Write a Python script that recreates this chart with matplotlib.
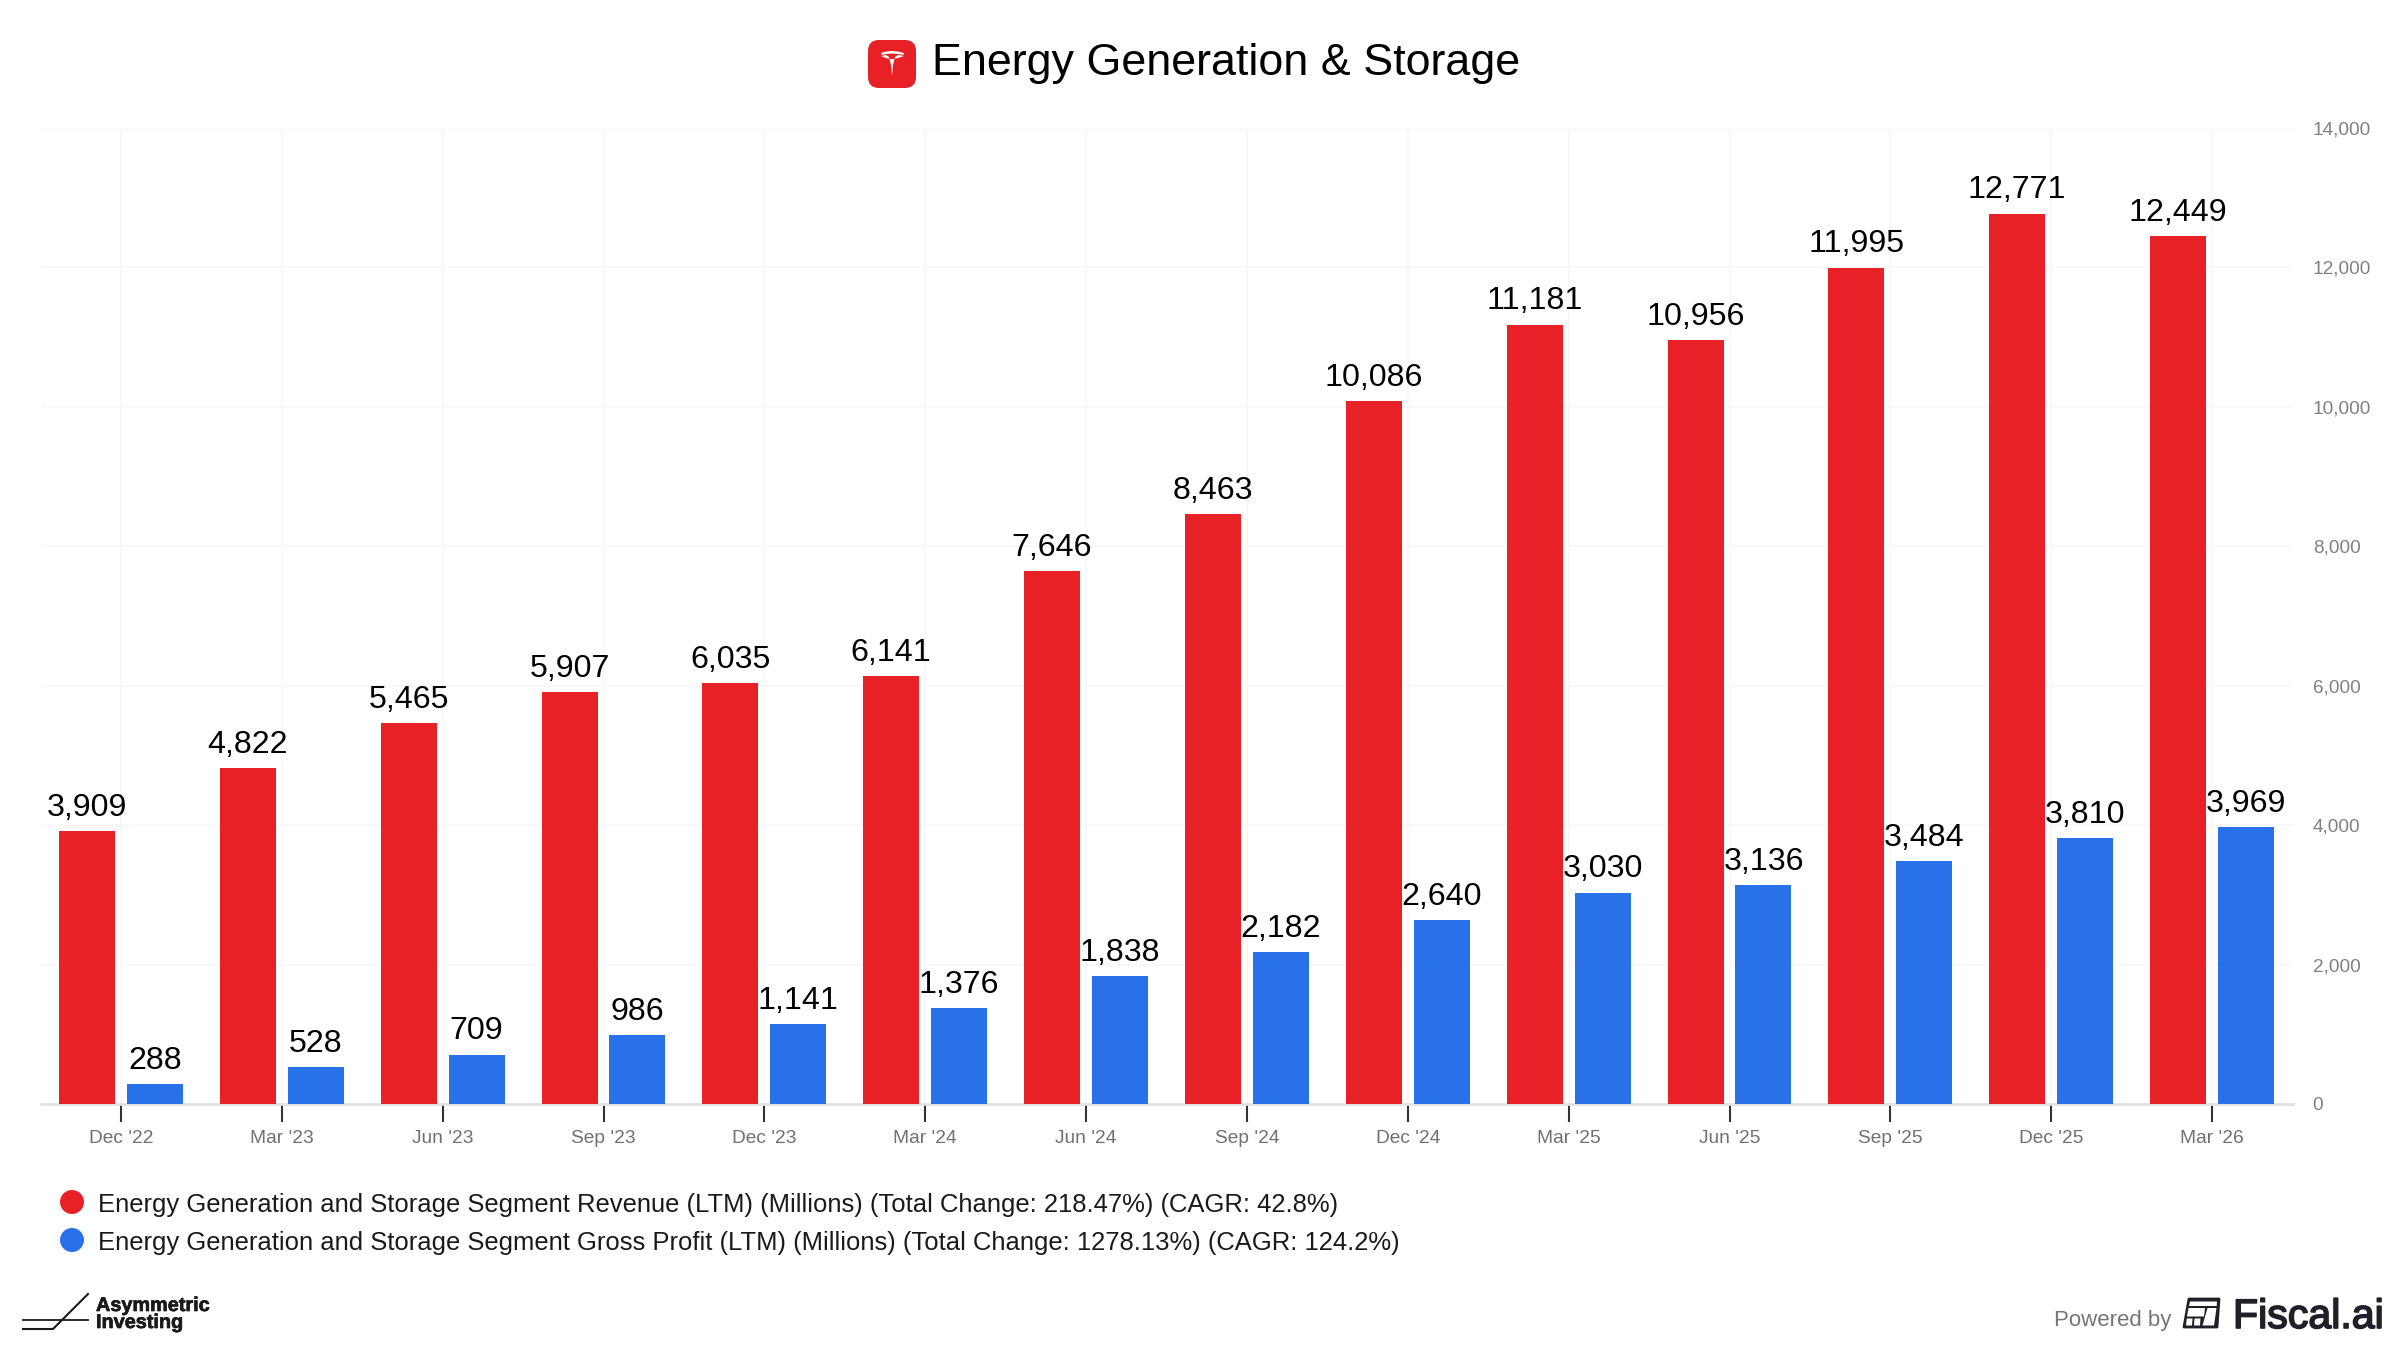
import matplotlib
matplotlib.use("Agg")
import matplotlib.pyplot as plt
import matplotlib.patheffects as pe
from matplotlib.patches import FancyBboxPatch, Polygon, Circle
from matplotlib.ticker import FuncFormatter
import numpy as np

plt.rcParams['font.family'] = ['Liberation Sans', 'DejaVu Sans']

# data
periods = ["Dec '22", "Mar '23", "Jun '23", "Sep '23", "Dec '23", "Mar '24", "Jun '24",
           "Sep '24", "Dec '24", "Mar '25", "Jun '25", "Sep '25", "Dec '25", "Mar '26"]
revenue = [3909, 4822, 5465, 5907, 6035, 6141, 7646, 8463, 10086, 11181, 10956, 11995, 12771, 12449]
gross_profit = [288, 528, 709, 986, 1141, 1376, 1838, 2182, 2640, 3030, 3136, 3484, 3810, 3969]
y_ticks = [0, 2000, 4000, 6000, 8000, 10000, 12000, 14000]

title = "Energy Generation & Storage"
revenue_label = "Energy Generation and Storage Segment Revenue (LTM) (Millions) (Total Change: 218.47%) (CAGR: 42.8%)"
profit_label = "Energy Generation and Storage Segment Gross Profit (LTM) (Millions) (Total Change: 1278.13%) (CAGR: 124.2%)"

RED = '#E82127'
BLUE = '#2971E9'
DARK = '#1F2028'
W, H = 2400, 1350

fig = plt.figure(figsize=(24, 13.5), dpi=100, facecolor='white')

# plot area in pixels: x 40.5..2292.5, y 128..1104
ax = fig.add_axes([40.5 / W, 1 - 1104 / H, 2252 / W, 976 / H])
x = np.arange(len(periods))
bar_w = 56 / 160.86
offset = 34 / 160.86

red_bars = ax.bar(x - offset, revenue, bar_w, color=RED, zorder=3)
blue_bars = ax.bar(x + offset, gross_profit, bar_w, color=BLUE, zorder=3)

for bars, vals in ((red_bars, revenue), (blue_bars, gross_profit)):
    for bar, v in zip(bars, vals):
        ax.annotate(f'{v:,}', (bar.get_x() + bar.get_width() / 2, v), xytext=(0, 11),
                    textcoords='offset points', ha='center', va='baseline',
                    fontsize=23.1, color='black', zorder=4)

ax.set_xlim(-0.5, 13.5)
ax.set_ylim(0, 14000)
ax.set_xticks(x, periods)
ax.set_yticks(y_ticks)
ax.yaxis.set_major_formatter(FuncFormatter(lambda v, _: f'{int(v):,}'))
ax.yaxis.tick_right()
ax.grid(True, color='#F8F8F8', linewidth=1.3, zorder=0)
ax.set_axisbelow(True)
for side in ('top', 'left', 'right'):
    ax.spines[side].set_visible(False)
ax.spines['bottom'].set_color('#E2E2E2')
ax.spines['bottom'].set_linewidth(2)
ax.tick_params(axis='x', length=13, width=1.5, color='#333333', labelcolor='#707070',
               labelsize=13.8, pad=5.7)
ax.tick_params(axis='y', length=0, labelcolor='#808080', labelsize=13.7, pad=14.5)
for lab in ax.get_yticklabels():
    lab.set_ha('left')

# overlay in pixel coordinates for title, legend and logos
ov = fig.add_axes([0, 0, 1, 1], facecolor='none')
ov.set_xlim(0, W)
ov.set_ylim(H, 0)
ov.axis('off')

ov.add_patch(FancyBboxPatch((879, 51), 26, 26, boxstyle='round,pad=11,rounding_size=11',
                            fc=RED, ec='none'))
ov.add_patch(Polygon([(881, 53), (886, 51.5), (892, 51), (898, 51.5), (904, 53), (903, 55),
                      (898, 54), (892, 53.5), (886, 54), (882, 55)], fc='white', ec='none'))
ov.add_patch(Polygon([(881, 56), (886, 55), (889, 57), (891, 65), (892, 76), (893, 65),
                      (895, 57), (898, 55), (904, 56), (898, 58), (894, 59),
                      (890, 59), (886, 58)], fc='white', ec='none'))
ov.text(931.5, 64, title, fontsize=32.3, color='black', ha='left', va='center')

ov.add_patch(Circle((72, 1202), 12, fc=RED, ec='none'))
ov.add_patch(Circle((72, 1240), 12, fc=BLUE, ec='none'))
ov.text(98.5, 1204.6, revenue_label, fontsize=18.43, color='#1A1A1A', ha='left', va='center')
ov.text(98.5, 1242.6, profit_label, fontsize=18.43, color='#1A1A1A', ha='left', va='center')

# Asymmetric Investing logo
ov.plot([23, 88], [1320, 1320], color='#1A1A1A', lw=1.3)
ov.plot([23, 53, 88], [1329, 1329, 1294], color='#1A1A1A', lw=1.5)
for label, base in (('Asymmetric', 1311), ('Investing', 1328)):
    ov.text(96, base, label, fontsize=14.3, fontweight='bold', color='#1A1A1A', ha='left',
            va='baseline', path_effects=[pe.withStroke(linewidth=0.5, foreground='#1A1A1A')])

# Fiscal.ai logo
ov.text(2054, 1326, 'Powered by', fontsize=16, color='#757575', ha='left', va='baseline')
ov.add_patch(Polygon([(2189, 1299), (2219, 1299), (2217, 1327), (2184, 1327)], closed=True,
                     fc=DARK, ec=DARK, lw=2, joinstyle='round'))
for panel in ([(2190, 1301.5), (2217, 1301.5), (2216.7, 1306), (2189, 1306)],
              [(2188.5, 1308), (2205, 1308), (2204, 1316.5), (2187, 1316.5)],
              [(2186.8, 1318.5), (2192.5, 1318.5), (2192, 1325.5), (2186, 1325.5)],
              [(2194.5, 1318.5), (2200.5, 1318.5), (2200, 1325.5), (2194, 1325.5)],
              [(2207.5, 1308), (2216.5, 1308), (2214, 1325.5), (2202.5, 1325.5)]):
    ov.add_patch(Polygon(panel, closed=True, fc='white', ec='none'))
ov.text(2233, 1328, 'Fiscal.ai', fontsize=29.6, color=DARK, ha='left', va='baseline',
        path_effects=[pe.withStroke(linewidth=1.2, foreground=DARK)])

fig.savefig('out.png', dpi=100)
